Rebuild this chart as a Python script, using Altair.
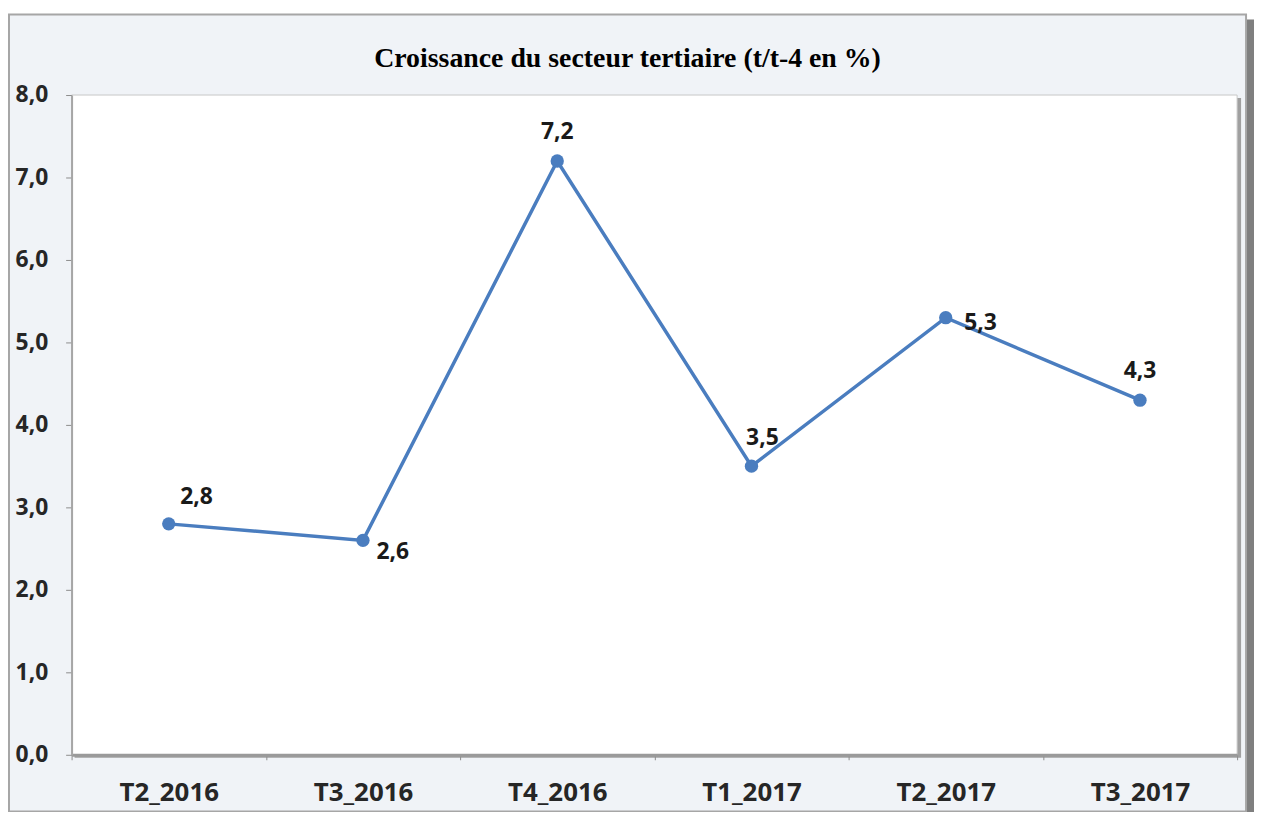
import altair as alt
import pandas as pd

categories = ["T2_2016", "T3_2016", "T4_2016", "T1_2017", "T2_2017", "T3_2017"]
values = [2.8, 2.6, 7.2, 3.5, 5.3, 4.3]
title_text = "Croissance du secteur tertiaire (t/t-4 en %)"

df = pd.DataFrame({"cat": categories, "val": values})

W, H = 1173, 664
LINE = "#4a7dbf"
FONT = "Open Sans"

xenc = alt.X("cat:N", sort=categories, title=None,
             scale=alt.Scale(type="band", paddingInner=0, paddingOuter=0),
             axis=alt.Axis(labelAngle=0, labelFont=FONT, labelFontSize=26, labelFontWeight="bold",
                           labelColor="#262626", labelPadding=20, tickBand="extent",
                           tickColor="#8c8c8c", tickSize=5, domainColor="#9a9a9a", domainWidth=3,
                           zindex=1))
yenc = alt.Y("val:Q", title=None,
             scale=alt.Scale(domain=[0, 8], nice=False),
             axis=alt.Axis(values=[0, 1, 2, 3, 4, 5, 6, 7, 8], grid=False,
                           labelExpr="replace(format(datum.value, '.1f'), '.', ',')",
                           labelFont=FONT, labelFontSize=23, labelFontWeight="bold",
                           labelColor="#262626", labelPadding=18, tickColor="#8c8c8c", tickSize=6,
                           domainColor="#a6a6a6", domainWidth=2, zindex=1))

one = pd.DataFrame({"t": [title_text]})

shadow = alt.Chart(one).mark_rect(fill="#7f7f7f").encode(
    x=alt.value(-56), x2=alt.value(1190), y=alt.value(-76), y2=alt.value(730))
frame = alt.Chart(one).mark_rect(fill="#f0f3f7", stroke="#a6a6a6", strokeWidth=2).encode(
    x=alt.value(-63), x2=alt.value(1182), y=alt.value(-81), y2=alt.value(721))
pshadow = alt.Chart(one).mark_rect(fill="#a0a0a0").encode(
    x=alt.value(3), x2=alt.value(W + 4), y=alt.value(3), y2=alt.value(H + 3))
plot = alt.Chart(one).mark_rect(fill="white", stroke="#c8c8c8", strokeWidth=1).encode(
    x=alt.value(0), x2=alt.value(W), y=alt.value(0), y2=alt.value(H))
title = alt.Chart(one).mark_text(font="Liberation Serif", fontSize=28, fontWeight="bold",
                                 color="#000000", align="center", baseline="middle").encode(
    x=alt.value(W / 2 - 27), y=alt.value(-36), text="t:N")

base = alt.Chart(df).encode(x=xenc, y=yenc)
line = base.mark_line(color=LINE, strokeWidth=3.5)
pts = base.mark_circle(color=LINE, size=180, opacity=1)

offsets = {
    "T2_2016": (28, -27),
    "T3_2016": (30, 12),
    "T4_2016": (0, -29),
    "T1_2017": (11, -28),
    "T2_2017": (35, 5),
    "T3_2017": (0, -29),
}
labels = []
for c in categories:
    dx, dy = offsets[c]
    labels.append(
        base.transform_filter(alt.datum.cat == c)
        .transform_calculate(lab="replace(format(datum.val, '.1f'), '.', ',')")
        .mark_text(font=FONT, fontSize=23, fontWeight="bold", color="#1a1a1a", dx=dx, dy=dy)
        .encode(text="lab:N")
    )

chart = alt.layer(shadow, frame, pshadow, plot, title, line, pts, *labels).properties(
    width=W, height=H,
    autosize=alt.AutoSizeParams(type="none"),
    padding={"left": 64, "top": 85, "right": 17, "bottom": 55},
).configure_view(stroke=None).configure(background="white")

chart.save("out.html", embed_options={"renderer": "svg", "actions": False})
